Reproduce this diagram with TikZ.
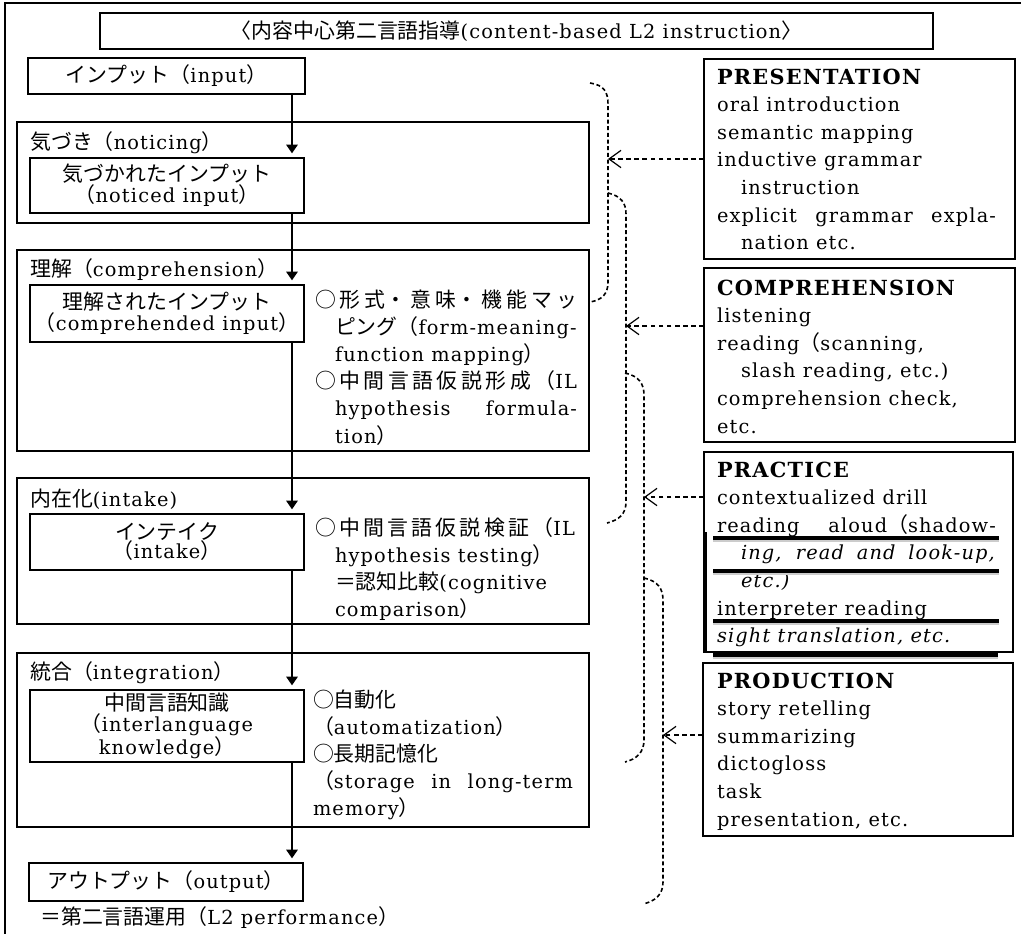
\documentclass[tikz,border=0pt]{standalone}
\usepackage{fontspec}
\setmainfont{DejaVu Serif}[LetterSpace=6]
\newfontfamily\jp{Noto Sans CJK JP}[Scale=1.08]
\usetikzlibrary{arrows.meta}
\setlength{\parindent}{0pt}
\XeTeXlinebreaklocale "ja"
\XeTeXlinebreakskip=0pt plus 1.5pt
\newcommand\myBody{\fontsize{14.5}{20.4}\selectfont}
\newcommand\myBodyR{\fontsize{14.5}{20.7}\selectfont}
\newcommand\myInbox{\fontsize{14.5}{14.25}\selectfont}
\newcommand\myHead{\fontsize{15.6}{20.7}\selectfont\bfseries}
\tikzset{
  frame/.style={line width=1.4pt},
  stage/.style={draw, line width=1pt, inner sep=0pt, outer sep=0pt},
  inbox/.style={draw, line width=2.2pt, inner sep=0pt, outer sep=0pt, align=center, font=\myInbox},
  tbox/.style={draw, line width=1.8pt, inner sep=0pt, outer sep=0pt, font=\myBody},
  rbox/.style={draw, line width=1.1pt, inner sep=0pt, outer sep=0pt},
  blk/.style={anchor=north west, inner sep=0pt, outer sep=0pt, text width={#1*0.75pt}, align=justify, font=\myBody},
  blkr/.style={anchor=north west, inner sep=0pt, outer sep=0pt, text width={#1*0.75pt}, align=justify, font=\myBodyR},
  lbl/.style={anchor=west, inner sep=0pt, font=\myBody},
  flow/.style={line width=1.5pt, -{Triangle[length=6.5pt,width=8.5pt]}, shorten >=3.5pt},
  darr/.style={line width=0.9pt, dash pattern=on 3.5pt off 2.6pt, -{Straight Barb[length=9pt,width=13pt,line width=0.9pt]}},
  brace/.style={line width=1.2pt, dash pattern=on 3pt off 2pt},
  sz/.style 2 args={minimum width={#1*0.75pt}, minimum height={#2*0.75pt}},
}
\begin{document}
\begin{tikzpicture}[x=0.75pt,y=-0.75pt]
\useasboundingbox (0,0) rectangle (1021,933);
\clip (0,0) rectangle (1021,933);
% outer frame
\draw[frame] (5,945) -- (5,3) -- (1030,3) -- (1030,945);
% title
\node[rbox, sz={833}{36}, font=\myBody] (title) at (516.5,31)
  {{\jp 〈内容中心第二言語指導}(content-based L2 instruction{\jp 〉}};
% left column
\node[tbox, sz={277}{36}] (input) at (166.5,76) {{\jp インプット（}input{\jp ）}};
\node[stage, sz={572}{101}] (st1) at (303,172.5) {};
\node[stage, sz={572}{201}] (st2) at (303,350.5) {};
\node[stage, sz={572}{146}] (st3) at (303,551) {};
\node[stage, sz={572}{174}] (st4) at (303,740) {};
\node[lbl] (l1) at (30,143) {{\jp 気づき（}noticing{\jp ）}};
\node[lbl] (l2) at (30,270) {{\jp 理解（}comprehension{\jp ）}};
\node[lbl] (l3) at (30,499) {{\jp 内在化}(intake)};
\node[lbl] (l4) at (30,673) {{\jp 統合（}integration{\jp ）}};
\node[inbox, sz={274}{55}] (noticed) at (167,185.5) {{\jp 気づかれたインプット}\\{\jp （}noticed input{\jp ）}};
\node[inbox, sz={274}{57}] (compbox) at (167,313.5) {{\jp 理解されたインプット}\\{\jp （}comprehended input{\jp ）}};
\node[inbox, sz={274}{56}] (intakebox) at (167,542) {{\jp インテイク}\\{\jp （}intake{\jp ）}};
\node[inbox, sz={274}{72}] (ilk) at (167,726) {{\jp 中間言語知識}\\{\jp （}interlanguage\\knowledge{\jp ）}};
\node[tbox, sz={274}{38}] (output) at (166,882) {{\jp アウトプット（}output{\jp ）}};
\node[anchor=west, inner sep=0pt, font=\myBody] (perf) at (40,918) {{\jp ＝第二言語運用（}L2 performance{\jp ）}};
% flow arrows
\coordinate (ax) at (292,0);
\draw[flow] (input.south -| ax) -- (noticed.north -| ax);
\draw[flow] (noticed.south -| ax) -- (compbox.north -| ax);
\draw[flow] (compbox.south -| ax) -- (intakebox.north -| ax);
\draw[flow] (intakebox.south -| ax) -- (ilk.north -| ax);
\draw[flow] (ilk.south -| ax) -- (output.north -| ax);
% process text
\node[blk=262] (compT) at (315,288) {\strut{\jp ○形式・意味・機能マッ}\linebreak
\mbox{\hspace*{15pt}{\jp ピング（}form-meaning-}\\
\hspace*{15pt}function mapping{\jp ）}\\
{\jp ○中間言語仮説形成（}IL\linebreak
\hspace*{15pt}hypothesis formula-\linebreak
\hspace*{15pt}tion{\jp ）}};
\node[blk=260] (intakeT) at (315,516) {\strut{\jp ○中間言語仮説検証（}IL\linebreak
\hspace*{15pt}hypothesis testing{\jp ）}\\
\hspace*{15pt}{\jp ＝認知比較}(cognitive\\
\hspace*{15pt}comparison{\jp ）}};
\node[blk=260] (integT) at (313,688) {\strut{\jp ○自動化}\\
{\jp （}automatization{\jp ）}\\
{\jp ○長期記憶化}\\
{\jp （}storage in long-term\linebreak
memory{\jp ）}};
% right boxes
\node[rbox, sz={311}{200}] (pres) at (859.5,159) {};
\node[rbox, sz={311}{174}] (compr) at (859.5,355) {};
\node[rbox, sz={309}{200}] (prac) at (858.5,552) {};
\node[rbox, sz={310}{173}] (prod) at (858,749.5) {};
\node[blkr=279] (presT) at (717,64.7) {\strut{\myHead PRESENTATION}\\
oral introduction\\
semantic mapping\\
inductive grammar\\
\hspace*{18pt}instruction\\
explicit grammar expla-\linebreak
\hspace*{18pt}nation etc.};
\node[blkr=279] (comprT) at (717,275.7) {\strut{\myHead COMPREHENSION}\\
listening\\
reading{\jp （}scanning,\\
\hspace*{18pt}slash reading, etc.)\\
comprehension check,\\
etc.};
\node[blkr=279] (pracT) at (717,457.7) {\strut{\myHead PRACTICE}\\
contextualized drill\\
reading aloud{\jp （}shadow-\linebreak
\hspace*{18pt}\textit{ing, read and look-up,}\linebreak
\hspace*{18pt}\textit{etc.)}\\
interpreter reading\\
\textit{sight translation, etc.}};
\node[blkr=279] (prodT) at (717,668.7) {\strut{\myHead PRODUCTION}\\
story retelling\\
summarizing\\
dictogloss\\
task\\
presentation, etc.};
% underline bars in PRACTICE
\foreach \yy in {538,571,621} {
  \draw[line width=2.2pt, gray!40] (713,\yy+3) -- (999,\yy+3);
  \draw[line width=2.6pt] (713,\yy) -- (999,\yy);
}
\draw[line width=2.2pt, gray!40] (713,658) -- (998,658);
\draw[line width=2.8pt] (713,655) -- (998,655);
\draw[line width=2pt] (706,532) -- (706,652);
% braces
\draw[brace] (590,83) .. controls (604,85) and (608,92) .. (608,104) -- (608,282) .. controls (608,294) and (602,300) .. (590,302);
\draw[brace] (608,193) .. controls (621,196) and (626,203) .. (626,214) -- (626,502) .. controls (626,514) and (619,520) .. (607,523);
\draw[brace] (625,373) .. controls (639,376) and (644,384) .. (644,395) -- (644,740) .. controls (644,752) and (637,759) .. (625,762);
\draw[brace] (644,578) .. controls (658,581) and (663,589) .. (663,600) -- (663,882) .. controls (663,894) and (656,901) .. (643,904);
\coordinate (c1) at (608,159);
\coordinate (c2) at (626,326);
\coordinate (c3) at (644,497);
\coordinate (c4) at (663,735);
\draw[darr] (pres.west |- c1) -- (c1);
\draw[darr] (compr.west |- c2) -- (c2);
\draw[darr] (prac.west |- c3) -- (c3);
\draw[darr] (prod.west |- c4) -- (c4);
\end{tikzpicture}
\end{document}
